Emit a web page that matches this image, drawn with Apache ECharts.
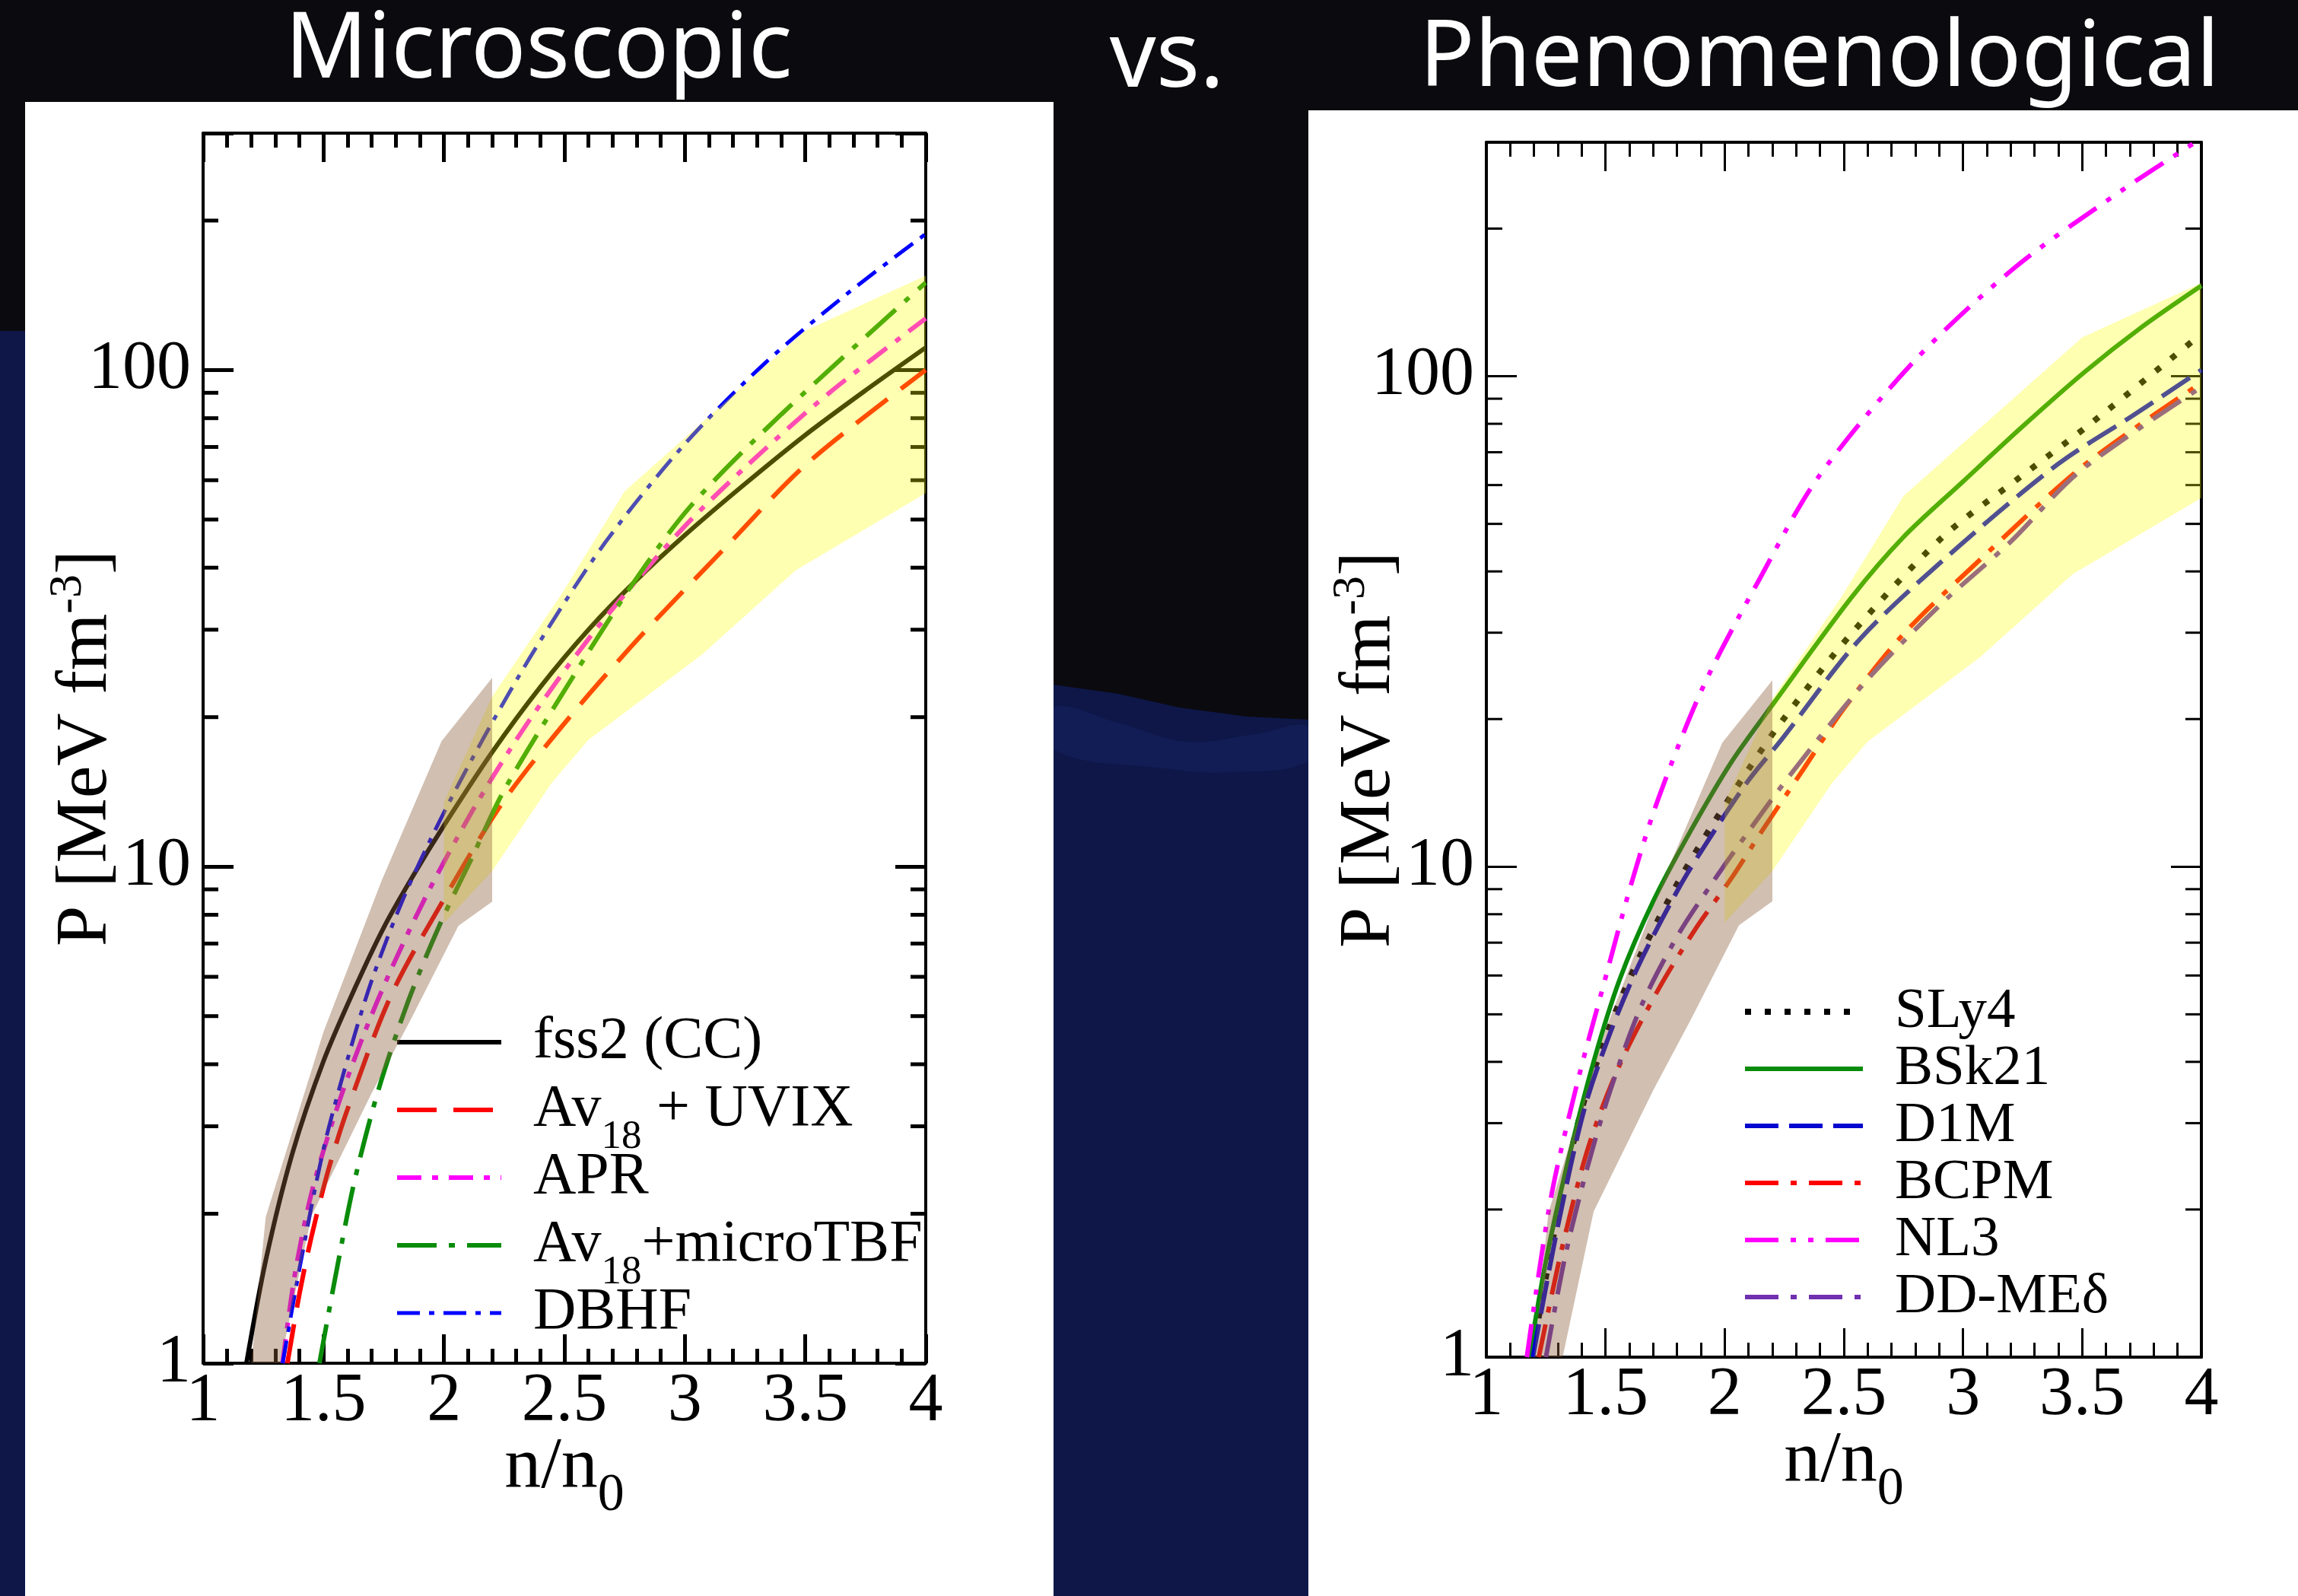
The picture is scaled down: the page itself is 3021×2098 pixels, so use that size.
<!DOCTYPE html>
<html>
<head>
<meta charset="utf-8">
<script src="https://cdn.jsdelivr.net/npm/echarts@6/dist/echarts.min.js"></script>
<style>
  html, body { margin: 0; padding: 0; background: #0b0a0e; }
  #chart { width: 3021px; height: 2098px; }
</style>
</head>
<body>
<div id="chart"></div>
<script>
// ---- axes ----
const xTicks = [1, 1.5, 2, 2.5, 3, 3.5, 4];           // n/n0
const yTicks = [1, 10, 100];                           // P [MeV fm^-3], log scale
const yMax = 300;
const yMinorTicks = [2, 3, 4, 5, 6, 7, 8, 9, 20, 30, 40, 50, 60, 70, 80, 90, 200];

// ---- microscopic EoS: [n/n0, P] ----
const fss2CC = [[1.18,1.0],[1.26,1.61],[1.37,2.64],[1.5,4.06],[1.63,5.69],[1.75,7.54],[1.87,9.55],[2.0,12.1],[2.2,17.0],[2.4,23.0],[2.6,30.0],[2.8,37.8],[3.0,46.5],[3.25,59],[3.5,74],[3.75,91],[4.0,111]];
const av18UVIX = [[1.35,1.0],[1.40,1.38],[1.45,1.8],[1.52,2.45],[1.6,3.25],[1.78,5.5],[2.0,8.6],[2.25,13.6],[2.54,20.5],[2.83,29.6],[3.16,43.5],[3.51,65],[4.0,100]];
const apr = [[1.33,1.0],[1.38,1.5],[1.45,2.2],[1.55,3.2],[1.66,4.5],[1.78,6.2],[1.94,9.0],[2.12,13.0],[2.3,18.0],[2.5,24.8],[2.71,33.5],[3.0,48.5],[3.27,65],[3.6,90],[4.0,127]];
const av18MicroTBF = [[1.483,1.0],[1.55,1.5],[1.627,2.31],[1.727,3.54],[1.849,5.32],[1.982,7.63],[2.115,10.4],[2.248,14.2],[2.514,23.2],[2.78,36.9],[3.024,53.2],[3.401,81.5],[4.0,150]];
const dbhf = [[1.33,1.0],[1.4,1.55],[1.5,2.7],[1.6,4.1],[1.7,5.9],[1.83,8.6],[1.98,12.3],[2.16,18.0],[2.38,27.5],[2.67,45],[3.0,71],[3.33,103],[3.67,142],[4.0,188]];

// ---- phenomenological EoS: [n/n0, P] ----
const sly4 = [[1.19,1.0],[1.29,1.85],[1.40,3.2],[1.52,4.75],[1.64,6.5],[1.81,9.4],[1.95,12.2],[2.1,15.8],[2.24,19.8],[2.53,29.8],[2.91,46.8],[3.24,62.3],[3.53,79.7],[4.0,122]];
const bsk21 = [[1.18,1.0],[1.25,1.57],[1.34,2.48],[1.45,4.0],[1.56,5.9],[1.70,8.5],[1.86,11.9],[2.03,16.4],[2.21,21.7],[2.53,35.3],[2.75,47.0],[3.0,61],[3.25,79],[3.51,102],[3.75,126],[4.0,153]];
const d1m = [[1.195,1.0],[1.30,1.85],[1.41,3.19],[1.52,4.59],[1.64,6.31],[1.81,9.09],[1.95,11.7],[2.1,15.0],[2.24,18.2],[2.57,29.2],[2.98,44.9],[3.4,66.3],[3.71,83],[4.0,103]];
const bcpm = [[1.22,1.0],[1.32,1.69],[1.43,2.7],[1.56,3.95],[1.72,5.6],[1.88,7.5],[2.03,9.5],[2.15,11.7],[2.33,15.8],[2.5,21],[2.75,29.8],[3.09,43.1],[3.51,66],[4.0,97]];
const nl3 = [[1.17,1.0],[1.27,2.1],[1.38,3.6],[1.49,5.7],[1.61,9.3],[1.72,13.7],[1.91,23.3],[2.15,38.9],[2.39,62],[2.8,108],[3.22,167],[3.67,240],[3.97,299],[4.0,305]];
const ddMEd = [[1.25,1.0],[1.33,1.6],[1.42,2.4],[1.52,3.5],[1.65,5.2],[1.8,7.2],[1.95,9.3],[2.1,11.8],[2.28,15.5],[2.59,23.8],[2.91,34.4],[3.2,46],[3.49,64],[4.0,95]];

// ---- constraint bands (upper / lower edges) ----
const brownUpper = [[1.2,1.0],[1.26,1.97],[1.5,4.65],[1.74,9.34],[1.99,17.9],[2.2,24.0]];
const brownLower = [[1.32,1.0],[1.45,1.98],[1.7,3.5],[1.86,4.9],[2.06,7.6],[2.2,8.5]];
const yellowUpper = [[2.0,13.5],[2.2,22],[2.49,35.5],[2.75,57],[3.11,81.5],[3.5,120],[4.0,155]];
const yellowLower = [[2.0,7.7],[2.2,9.8],[2.45,14.8],[2.6,18.0],[3.07,26.7],[3.46,39.5],[4.0,56.5]];

const SERIF = 'Liberation Serif';
const xMin = xTicks[0], xMax = xTicks[xTicks.length - 1];

// panel definitions: series name, data, colour, dash pattern, width
const leftCurves = [
  { name: 'fss2 (CC)',     data: fss2CC,       color: '#000000', dash: 'solid',            width: 6 },
  { name: 'Av18 + UVIX',   data: av18UVIX,     color: '#ff0000', dash: [52, 22],           width: 6 },
  { name: 'APR',           data: apr,          color: '#ff00ff', dash: [32, 14, 8, 14],    width: 6 },
  { name: 'Av18+microTBF', data: av18MicroTBF, color: '#0a8c0a', dash: [52, 16, 8, 16],    width: 6 },
  { name: 'DBHF',          data: dbhf,         color: '#0000ff', dash: [30, 12, 7, 12],    width: 5 }
];
const rightCurves = [
  { name: 'SLy4',   data: sly4,  color: '#000000', dash: [8, 18],                    width: 8 },
  { name: 'BSk21',  data: bsk21, color: '#0a8c0a', dash: 'solid',                    width: 6 },
  { name: 'D1M',    data: d1m,   color: '#0505d0', dash: [44, 14],                   width: 6 },
  { name: 'BCPM',   data: bcpm,  color: '#ff0000', dash: [44, 16, 8, 16],            width: 6 },
  { name: 'NL3',    data: nl3,   color: '#ff00ff', dash: [44, 16, 7, 16, 7, 16],     width: 6 },
  { name: 'DD-MEδ', data: ddMEd, color: '#7030b0', dash: [44, 16, 8, 16],            width: 6 }
];

const grids = [
  { left: 267, top: 175, width: 950, height: 1617 },
  { left: 1954, top: 187, width: 940, height: 1597 }
];

function xAxisCfg(gridIndex, position, withLabels, tickW) {
  return {
    type: 'value', gridIndex, position, min: xMin, max: xMax, interval: xTicks[1] - xTicks[0],
    axisLine: { show: true, onZero: false, lineStyle: { color: '#000', width: 4 } },
    axisTick: { show: true, inside: true, length: 38, lineStyle: { color: '#000', width: tickW } },
    minorTick: { show: true, splitNumber: 5, length: 19, lineStyle: { color: '#000', width: tickW } },
    splitLine: { show: false }, minorSplitLine: { show: false },
    axisLabel: { show: withLabels, margin: 6, fontFamily: SERIF, fontSize: 90, color: '#000',
                 showMinLabel: true, showMaxLabel: true },
    name: withLabels ? 'n/n{sub|0}' : '',
    nameLocation: 'middle', nameGap: 66, nameMoveOverlap: false,
    nameTextStyle: { fontFamily: SERIF, fontSize: 96, color: '#000', lineHeight: 144,
      rich: { sub: { fontFamily: SERIF, fontSize: 70, color: '#000', lineHeight: 32, verticalAlign: 'bottom' } } }
  };
}

function yAxisCfg(gridIndex, position, withLabels, tickW) {
  return {
    type: 'log', logBase: 10, gridIndex, position, min: yTicks[0], max: yMax,
    axisLine: { show: true, onZero: false, lineStyle: { color: '#000', width: 4 } },
    axisTick: { show: true, inside: true, length: 40, lineStyle: { color: '#000', width: tickW } },
    minorTick: { show: false }, splitLine: { show: false },
    axisLabel: { show: withLabels, margin: 16, fontFamily: SERIF, fontSize: 90, color: '#000',
      formatter: v => { const r = Math.round(v); return (yTicks.includes(r) && Math.abs(v - r) < 1e-6) ? String(r) : ''; } },
    name: withLabels ? 'P [MeV fm{sup|-3}]' : '',
    nameLocation: 'middle', nameRotate: 90, nameGap: 98, nameMoveOverlap: false,
    nameTextStyle: { fontFamily: SERIF, fontSize: 96, color: '#000', lineHeight: 110,
      rich: { sup: { fontFamily: SERIF, fontSize: 62, color: '#000', lineHeight: 40, verticalAlign: 'top' } } }
  };
}

function lineSeries(c, xi, yi) {
  return {
    type: 'line', name: c.name, data: c.data, xAxisIndex: xi, yAxisIndex: yi,
    symbol: 'none', showSymbol: false, smooth: 0.3, z: 2, clip: true,
    lineStyle: { color: c.color, width: c.width, type: c.dash, cap: 'butt' },
    itemStyle: { color: c.color }, emphasis: { disabled: true }
  };
}

// polygon between an upper and a lower edge, placed through the axis scales
function bandSeries(upper, lower, fill, xi, yi, z) {
  const outline = upper.concat(lower.slice().reverse());
  return {
    type: 'custom', coordinateSystem: 'cartesian2d', xAxisIndex: xi, yAxisIndex: yi,
    data: [outline[0]], z, silent: true, clip: true,
    renderItem: (params, api) => ({
      type: 'polygon',
      shape: { points: outline.map(p => api.coord(p)) },
      style: { fill }
    })
  };
}

// log-axis minor ticks on both vertical frame edges
function minorTickSeries(xi, yi, len, width) {
  return {
    type: 'custom', coordinateSystem: 'cartesian2d', xAxisIndex: xi, yAxisIndex: yi,
    data: yMinorTicks.map(v => [xMin, v]), z: 3, silent: true, clip: false,
    renderItem: (params, api) => {
      const v = api.value(1);
      const a = api.coord([xMin, v]);
      const b = api.coord([xMax, v]);
      return { type: 'group', children: [
        { type: 'line', shape: { x1: a[0], y1: a[1], x2: a[0] + len, y2: a[1] }, style: { stroke: '#000', lineWidth: width } },
        { type: 'line', shape: { x1: b[0] - len, y1: b[1], x2: b[0], y2: b[1] }, style: { stroke: '#000', lineWidth: width } }
      ]};
    }
  };
}

// vertical legend; rowBox is the text box height, rowPitch the distance between rows
function legendCfg(curves, left, firstRowY, itemWidth, fontSize, rowBox, rowPitch) {
  return {
    orient: 'vertical', left, top: firstRowY - rowBox / 2, padding: 0,
    itemGap: rowPitch - rowBox, itemWidth, itemHeight: 20,
    selectedMode: false,
    data: curves.map(c => ({ name: c.name,
      lineStyle: { color: c.color, width: c.width, type: c.dash, cap: 'butt' },
      itemStyle: { opacity: 0 } })),
    formatter: name => '{pad| }' + name.replace('Av18', 'Av{sub|18}'),
    textStyle: { fontFamily: SERIF, fontSize, color: '#000', lineHeight: rowBox,
      rich: {
        pad: { width: 37, fontSize, lineHeight: rowBox },
        sub: { fontFamily: SERIF, fontSize: Math.round(fontSize * 0.68), color: '#000', lineHeight: 17, verticalAlign: 'bottom' }
      } }
  };
}

const BROWN = 'rgba(140,95,60,0.40)';
const YELLOW = 'rgba(255,255,0,0.30)';
const TITLE_FONT = '120px "Noto Sans"';

const option = {
  animation: false,
  backgroundColor: '#0b0a0e',
  graphic: [
    { type: 'polygon', z: -19, silent: true,
      shape: { points: [[0,435],[40,435],[1385,900],[1470,912],[1550,930],[1640,942],[1720,946],[3021,946],[3021,2098],[0,2098]] },
      style: { fill: '#0e1748' } },
    { type: 'polygon', z: -18, silent: true,
      shape: { smooth: 0.4, points: [[1385,930],[1470,950],[1560,975],[1650,965],[1720,955],[1720,1000],[1620,1015],[1530,1010],[1385,985]] },
      style: { fill: '#121d55' } },
    { type: 'rect', z: -10, silent: true, shape: { x: 33, y: 134, width: 1352, height: 1964 }, style: { fill: '#ffffff' } },
    { type: 'rect', z: -10, silent: true, shape: { x: 1720, y: 145, width: 1301, height: 1953 }, style: { fill: '#ffffff' } },
    { type: 'text', z: 10, silent: true, style: { text: 'Microscopic', x: 708, y: 68, font: TITLE_FONT, fill: '#ffffff', textAlign: 'center', textVerticalAlign: 'middle' } },
    { type: 'text', z: 10, silent: true, style: { text: 'vs.', x: 1534, y: 80, font: TITLE_FONT, fill: '#ffffff', textAlign: 'center', textVerticalAlign: 'middle' } },
    { type: 'text', z: 10, silent: true, style: { text: 'Phenomenological', x: 2392, y: 79, font: TITLE_FONT, fill: '#ffffff', textAlign: 'center', textVerticalAlign: 'middle' } }
  ],
  grid: grids.map(g => Object.assign({ show: false, containLabel: false }, g)),
  xAxis: [
    xAxisCfg(0, 'bottom', true, 5), xAxisCfg(0, 'top', false, 5),
    xAxisCfg(1, 'bottom', true, 3), xAxisCfg(1, 'top', false, 3)
  ],
  yAxis: [
    yAxisCfg(0, 'left', true, 5), yAxisCfg(0, 'right', false, 5),
    yAxisCfg(1, 'left', true, 3), yAxisCfg(1, 'right', false, 3)
  ],
  legend: [
    legendCfg(leftCurves, 519, 1370, 137, 78, 126, 89),
    legendCfg(rightCurves, 2290, 1330, 155, 75, 75, 75)
  ],
  series: [
    ...leftCurves.map(c => lineSeries(c, 0, 0)),
    ...rightCurves.map(c => lineSeries(c, 2, 2)),
    minorTickSeries(0, 0, 20, 5),
    minorTickSeries(2, 2, 21, 3),
    bandSeries(yellowUpper, yellowLower, YELLOW, 0, 0, 6),
    bandSeries(brownUpper, brownLower, BROWN, 0, 0, 7),
    bandSeries(yellowUpper, yellowLower, YELLOW, 2, 2, 6),
    bandSeries(brownUpper, brownLower, BROWN, 2, 2, 7)
  ]
};

const chart = echarts.init(document.getElementById('chart'), null, { renderer: 'canvas' });
chart.setOption(option);
</script>
</body>
</html>
